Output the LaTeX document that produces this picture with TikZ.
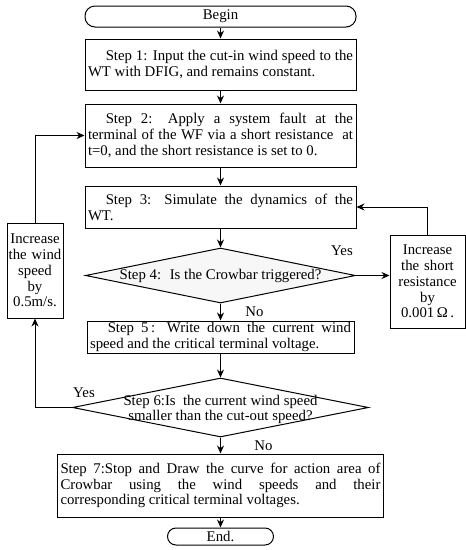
\documentclass[tikz,border=0pt]{standalone}
\usepackage{fontspec}
\setmainfont{Liberation Serif}
\usepackage{tikz}
\usetikzlibrary{shapes.geometric, arrows.meta}
\hyphenpenalty=10000
\tikzstyle{startstop} = [rectangle, rounded corners=10pt, minimum width=271pt, minimum height=21pt, inner sep=0pt, text centered, draw=black, line width=1pt]
\tikzstyle{process} = [rectangle, minimum width=271pt, text width=265pt, inner xsep=3pt, inner ysep=0pt, align=justify, draw=black, line width=1pt]
\tikzstyle{decision} = [diamond, inner sep=0pt, minimum width=270pt, minimum height=55pt, draw=black, line width=1pt]
\tikzstyle{side} = [rectangle, inner xsep=2pt, inner ysep=0pt, text centered, draw=black, line width=1pt]
\tikzstyle{arrow} = [line width=1pt,-{Stealth[length=8pt,width=7pt]}]

\begin{document}
\begin{tikzpicture}[node distance=70.5pt, font=\fontsize{14.8pt}{15.8pt}\selectfont]
\useasboundingbox (0,0) rectangle (466pt,-550pt);

\node (start) [startstop] at (220.5pt,-16.5pt) {Begin};

\node (in1) [process, minimum height=51pt, below of=start, yshift=22.5pt] {\hspace*{1.2em}Step 1: Input the cut-in wind speed to the\linebreak WT with DFIG, and remains constant.};

\node (in2) [process, minimum height=63pt, below of=in1, yshift=-0.5pt] {\hspace*{1.2em}Step 2: Apply a system fault at the\linebreak terminal of the WF via a short resistance~ at\linebreak t=0, and the short resistance is set to 0.};

\node (sim) [process, minimum height=42pt, below of=in2, yshift=-1pt] {\hspace*{1.2em}Step 3: Simulate the dynamics of the\linebreak WT.};

\node (dec1) [decision, fill=gray!6, below of=sim, yshift=2pt, label={center:Step 4:~ Is the Crowbar triggered?}] {};

\node (pro1) [process, minimum width=267pt, text width=261pt, minimum height=32pt, below of=dec1, yshift=9pt] {\hspace*{1.2em}Step 5\,: Write down the current wind\linebreak speed and the critical terminal voltage.};

\node (dec2) [decision, minimum width=296pt, minimum height=59pt, below of=pro1, label={[align=center, yshift=-2pt]center:Step 6:Is~ the current wind speed\\smaller than the cut-out speed?}] {};

\node (pro2) [process, minimum width=326pt, text width=320pt, minimum height=63pt, below of=dec2, yshift=-7.5pt] {Step 7:Stop and Draw the curve for action area of\linebreak Crowbar using the wind speeds and their\linebreak corresponding critical terminal voltages.};

\node (stop) [startstop, rounded corners=8.5pt, minimum width=106pt, minimum height=17pt, below of=pro2, yshift=19.5pt] {End.};

\node (incw) [side, text width=56pt, inner xsep=0pt, minimum height=95pt, left of=dec1, xshift=-115pt, yshift=5pt] {Increase\\the wind\\speed\\by\\0.5m/s.};
\node (incr) [side, text width=71pt, minimum height=93pt, right of=dec1, xshift=136.5pt, yshift=-6pt] {Increase\\the short\\resistance\\by\\0.001\,Ω\,.};

\draw [arrow] (start) -- (in1);
\draw [arrow] (in1) -- (in2);
\draw [arrow] (in2) -- (sim);
\draw [arrow] (sim) -- (dec1);
\draw [arrow] (dec1) -- node[anchor=west, xshift=21pt] {No} (pro1);
\draw [arrow] (pro1) -- (dec2);
\draw [arrow] (dec2) -- node[anchor=west, xshift=30pt] {No} (pro2);
\draw [arrow] (pro2) -- (stop);

\draw [arrow] (dec1.east) -- node[pos=0, xshift=-14pt, yshift=24.5pt] {Yes} (dec1.east -| incr.west);
\draw [arrow] (incr.north) |- (sim.east);
\draw [arrow] (dec2.west) -- node[pos=0, xshift=12pt, yshift=14.5pt] {Yes} (dec2.west -| incw.south) -- (incw.south);
\draw [arrow] (incw.north) |- (in2.west);

\end{tikzpicture}
\end{document}
